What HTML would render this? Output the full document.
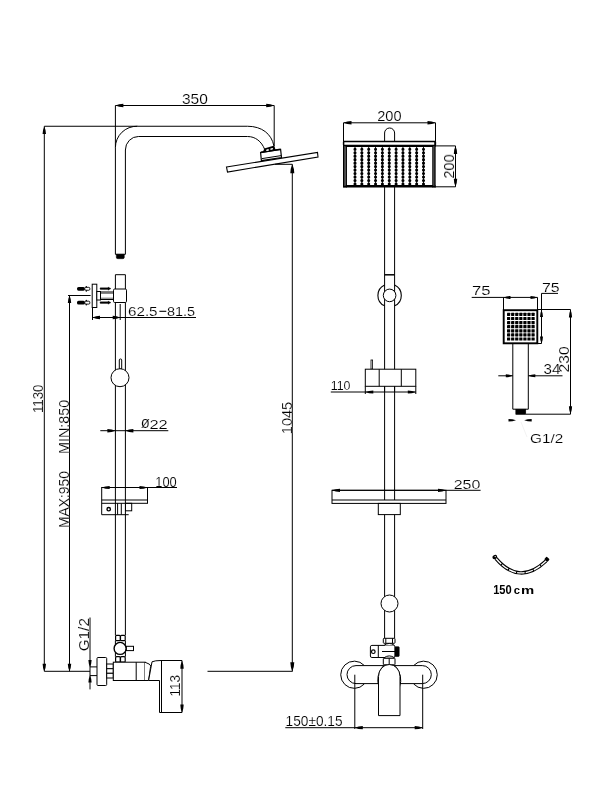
<!DOCTYPE html>
<html><head><meta charset="utf-8"><style>
html,body{margin:0;padding:0;background:#fff;width:600px;height:800px;overflow:hidden}
svg{display:block}
text{font-family:"Liberation Sans",sans-serif}
</style></head><body>
<svg width="600" height="800" viewBox="0 0 600 800">
<rect x="0" y="0" width="600" height="800" fill="#fff"/>
<line x1="115.4" y1="105.5" x2="274.2" y2="105.5" stroke="#000" stroke-width="1" />
<path d="M115.40,105.50 Q119.00,103.79 123.40,103.70 L123.40,107.30 Q119.00,107.21 115.40,105.50 Z" fill="#000"/>
<path d="M274.20,105.50 Q270.60,103.79 266.20,103.70 L266.20,107.30 Q270.60,107.21 274.20,105.50 Z" fill="#000"/>
<line x1="274.2" y1="105.5" x2="274.2" y2="146" stroke="#000" stroke-width="1" />
<line x1="115.4" y1="105.5" x2="115.4" y2="147.5" stroke="#000" stroke-width="1" />
<line x1="44.3" y1="126.25" x2="137.5" y2="126.25" stroke="#000" stroke-width="1" />
<path d="M115.4,254.3 L115.4,147.5 A21.5,21.3 0 0 1 137.5,126.25 L247.5,126.25 C262,126.25 271.5,134 273.9,145.8" fill="none" stroke="#000" stroke-width="1" />
<path d="M125.4,254.3 L125.4,150 A13,13.5 0 0 1 138.4,136.5 L247.5,136.5 C255.5,136.5 261.5,141.5 264.6,149.2" fill="none" stroke="#000" stroke-width="1" />
<line x1="115.4" y1="254.3" x2="125.4" y2="254.3" stroke="#000" stroke-width="1" />
<path d="M116.3,254.3 L124.3,254.3 L124.3,257.2 Q124.3,258.7 122.8,258.7 L117.8,258.7 Q116.3,258.7 116.3,257.2 Z" fill="#000" stroke="#000" stroke-width="0.5" />
<polygon points="226.5,167 317.5,152.5 318,157 227.5,172" fill="#fff" stroke="#000" stroke-width="1.1"/>
<polygon points="260.6,152.6 280.6,149.5 281.5,157.5 261.4,160.7" fill="#fff" stroke="#000" stroke-width="1.2"/>
<line x1="260.8" y1="152.3" x2="280.6" y2="149.2" stroke="#000" stroke-width="1.6" />
<line x1="262" y1="158.6" x2="281.2" y2="155.6" stroke="#000" stroke-width="1" />
<polygon points="264.3,148.6 274.2,145.4 275.6,149.9 262.8,152.2" fill="#000"/>
<ellipse cx="267.6" cy="150.1" rx="1.6" ry="0.8" transform="rotate(-17 267.6 150.1)" fill="#fff"/>
<ellipse cx="271.6" cy="148.9" rx="1.6" ry="0.8" transform="rotate(-17 271.6 148.9)" fill="#fff"/>
<line x1="275" y1="164.3" x2="292.3" y2="164.3" stroke="#000" stroke-width="1" />
<line x1="292.3" y1="164.3" x2="292.3" y2="671.3" stroke="#000" stroke-width="1" />
<path d="M292.30,164.30 Q290.40,168.35 290.30,173.30 L294.30,173.30 Q294.20,168.35 292.30,164.30 Z" fill="#000"/>
<path d="M292.30,671.30 Q290.40,667.25 290.30,662.30 L294.30,662.30 Q294.20,667.25 292.30,671.30 Z" fill="#000"/>
<line x1="207.5" y1="671.3" x2="292.6" y2="671.3" stroke="#000" stroke-width="1" />
<line x1="44.3" y1="126.25" x2="44.3" y2="671.3" stroke="#000" stroke-width="1" />
<path d="M44.30,126.50 Q42.68,129.88 42.60,134.00 L46.00,134.00 Q45.91,129.88 44.30,126.50 Z" fill="#000"/>
<path d="M44.30,671.30 Q42.68,667.92 42.60,663.80 L46.00,663.80 Q45.91,667.92 44.30,671.30 Z" fill="#000"/>
<line x1="68" y1="295.5" x2="90.6" y2="295.5" stroke="#000" stroke-width="1" />
<line x1="69.5" y1="295.5" x2="69.5" y2="671.3" stroke="#000" stroke-width="1" />
<path d="M69.50,295.50 Q67.89,298.88 67.80,303.00 L71.20,303.00 Q71.11,298.88 69.50,295.50 Z" fill="#000"/>
<path d="M69.50,671.30 Q67.89,667.92 67.80,663.80 L71.20,663.80 Q71.11,667.92 69.50,671.30 Z" fill="#000"/>
<line x1="44.3" y1="671.3" x2="90" y2="671.3" stroke="#000" stroke-width="1" />
<line x1="115.4" y1="274.7" x2="115.4" y2="635.3" stroke="#000" stroke-width="1" />
<line x1="125.4" y1="274.7" x2="125.4" y2="635.3" stroke="#000" stroke-width="1" />
<line x1="115.4" y1="274.7" x2="125.4" y2="274.7" stroke="#000" stroke-width="1" />
<rect x="92.2" y="284.2" width="4.60" height="23.30" rx="0" fill="#fff" stroke="#000" stroke-width="1"/>
<rect x="96.8" y="291.5" width="3.70" height="8.50" rx="0" fill="#fff" stroke="#000" stroke-width="1"/>
<rect x="100.5" y="292" width="13.00" height="7.50" rx="0" fill="#fff" stroke="#000" stroke-width="1"/>
<line x1="100.5" y1="293.3" x2="113.5" y2="293.3" stroke="#000" stroke-width="0.6" />
<line x1="100.5" y1="298.2" x2="113.5" y2="298.2" stroke="#000" stroke-width="0.6" />
<rect x="113.5" y="289" width="13.00" height="13.50" rx="1.2" fill="#fff" stroke="#000" stroke-width="1"/>
<rect x="77" y="286.90" width="8" height="3.8" rx="1.6" fill="#000"/>
<rect x="84.8" y="287.35" width="5" height="2.9" rx="1" fill="#fff" stroke="#000" stroke-width="0.9"/>
<circle cx="86.3" cy="286.70" r="0.75" fill="#000"/><circle cx="86.3" cy="290.90" r="0.75" fill="#000"/>
<rect x="77" y="300.75" width="8" height="3.8" rx="1.6" fill="#000"/>
<rect x="84.8" y="301.20" width="5" height="2.9" rx="1" fill="#fff" stroke="#000" stroke-width="0.9"/>
<circle cx="86.3" cy="300.55" r="0.75" fill="#000"/><circle cx="86.3" cy="304.75" r="0.75" fill="#000"/>
<path d="M100.3,287.70000000000005 L108,287.70000000000005 L108,287.0 L111,288.6 L108,290.20000000000005 L108,289.5 L100.3,289.5 Q99.6,288.6 100.3,287.70000000000005 Z" fill="#000" stroke="#000" stroke-width="0.3" />
<path d="M100.3,301.70000000000005 L108,301.70000000000005 L108,301.0 L111,302.6 L108,304.20000000000005 L108,303.5 L100.3,303.5 Q99.6,302.6 100.3,301.70000000000005 Z" fill="#000" stroke="#000" stroke-width="0.3" />
<line x1="92.5" y1="308" x2="92.5" y2="320" stroke="#000" stroke-width="1" />
<line x1="120.2" y1="304" x2="120.2" y2="320" stroke="#000" stroke-width="1" />
<line x1="92.5" y1="317.5" x2="196" y2="317.5" stroke="#000" stroke-width="1" />
<path d="M92.50,317.50 Q95.88,315.79 100.00,315.70 L100.00,319.30 Q95.88,319.21 92.50,317.50 Z" fill="#000"/>
<path d="M120.20,317.50 Q116.83,315.79 112.70,315.70 L112.70,319.30 Q116.83,319.21 120.20,317.50 Z" fill="#000"/>
<line x1="159.4" y1="311.3" x2="166.3" y2="311.3" stroke="#000" stroke-width="1.1" />
<rect x="119.3" y="359" width="2.40" height="10.00" rx="1" fill="#fff" stroke="#000" stroke-width="1"/>
<circle cx="120" cy="377.7" r="9" fill="#fff" stroke="#000" stroke-width="1"/>
<line x1="100.3" y1="430.7" x2="168.3" y2="430.7" stroke="#000" stroke-width="1" />
<path d="M115.40,430.70 Q111.80,429.08 107.40,429.00 L107.40,432.40 Q111.80,432.31 115.40,430.70 Z" fill="#000"/>
<path d="M125.40,430.70 Q129.00,429.08 133.40,429.00 L133.40,432.40 Q129.00,432.31 125.40,430.70 Z" fill="#000"/>
<line x1="101.7" y1="487.5" x2="177" y2="487.5" stroke="#000" stroke-width="1" />
<path d="M101.70,487.50 Q105.30,485.98 109.70,485.90 L109.70,489.10 Q105.30,489.02 101.70,487.50 Z" fill="#000"/>
<path d="M147.50,487.50 Q143.90,485.98 139.50,485.90 L139.50,489.10 Q143.90,489.02 147.50,487.50 Z" fill="#000"/>
<rect x="101.7" y="487.5" width="45.80" height="15.80" rx="0" fill="none" stroke="#000" stroke-width="1"/>
<line x1="101.7" y1="500" x2="147.5" y2="500" stroke="#000" stroke-width="1" />
<path d="M101.7,503.3 L101.7,514.7 L128.7,514.7" fill="none" stroke="#000" stroke-width="1" />
<rect x="125.5" y="503.3" width="6.20" height="7.50" rx="0" fill="none" stroke="#000" stroke-width="1"/>
<line x1="117.6" y1="503.3" x2="117.6" y2="514.7" stroke="#000" stroke-width="1" />
<line x1="121.3" y1="503.3" x2="121.3" y2="514.7" stroke="#000" stroke-width="1" />
<circle cx="108.7" cy="509.2" r="1.7" fill="#fff" stroke="#000" stroke-width="1.4"/>
<rect x="115.6" y="635.3" width="4.70" height="5.40" rx="1" fill="#fff" stroke="#000" stroke-width="1.2"/>
<rect x="120.5" y="635.3" width="4.70" height="5.40" rx="1" fill="#fff" stroke="#000" stroke-width="1.2"/>
<rect x="115.6" y="656.7" width="4.70" height="5.50" rx="1" fill="#fff" stroke="#000" stroke-width="1.2"/>
<rect x="120.5" y="656.7" width="4.70" height="5.50" rx="1" fill="#fff" stroke="#000" stroke-width="1.2"/>
<line x1="115.4" y1="640.7" x2="115.4" y2="656.7" stroke="#000" stroke-width="1" />
<line x1="125.4" y1="640.7" x2="125.4" y2="656.7" stroke="#000" stroke-width="1" />
<rect x="126.3" y="646.3" width="7.20" height="4.30" rx="0" fill="#fff" stroke="#000" stroke-width="1"/>
<circle cx="120.1" cy="648.4" r="6" fill="#fff" stroke="#000" stroke-width="1.4"/>
<line x1="90" y1="617.5" x2="90" y2="689.4" stroke="#000" stroke-width="1" />
<path d="M90.00,666.90 Q88.48,663.75 88.40,659.90 L91.60,659.90 Q91.52,663.75 90.00,666.90 Z" fill="#000"/>
<path d="M90.00,675.60 Q88.48,678.75 88.40,682.60 L91.60,682.60 Q91.52,678.75 90.00,675.60 Z" fill="#000"/>
<line x1="90" y1="666.9" x2="97" y2="666.9" stroke="#000" stroke-width="1" />
<line x1="90" y1="675.6" x2="97" y2="675.6" stroke="#000" stroke-width="1" />
<rect x="97" y="657.5" width="9.70" height="28.00" rx="1" fill="#fff" stroke="#000" stroke-width="1"/>
<rect x="106.7" y="664" width="6.60" height="4.70" rx="0" fill="#fff" stroke="#000" stroke-width="1"/>
<rect x="106.7" y="668.7" width="6.60" height="4.60" rx="0" fill="#fff" stroke="#000" stroke-width="1"/>
<rect x="106.7" y="673.3" width="6.60" height="4.70" rx="0" fill="#fff" stroke="#000" stroke-width="1"/>
<rect x="113.3" y="662.2" width="31.70" height="18.30" rx="0" fill="#fff" stroke="#000" stroke-width="1"/>
<line x1="136.2" y1="662.2" x2="136.2" y2="680.5" stroke="#000" stroke-width="1" />
<path d="M145,662.2 L149,664 Q150.8,664.8 150.6,666.5 L148.6,680.5 L145,680.5" fill="#fff" stroke="#000" stroke-width="1" />
<path d="M152,661.8 Q155,660.5 161,660.5 L182,660.5 L182,712.5 L159.5,712.5 L159.5,680.5 L148.6,680.5 L152,661.8 Z" fill="#fff" stroke="#000" stroke-width="1" />
<line x1="161.5" y1="660.5" x2="161.5" y2="712.5" stroke="#000" stroke-width="1" />
<path d="M182.00,660.80 Q180.38,664.40 180.30,668.80 L183.70,668.80 Q183.62,664.40 182.00,660.80 Z" fill="#000"/>
<path d="M182.00,712.50 Q180.38,708.90 180.30,704.50 L183.70,704.50 Q183.62,708.90 182.00,712.50 Z" fill="#000"/>
<line x1="343.5" y1="122.8" x2="435.5" y2="122.8" stroke="#000" stroke-width="1" />
<path d="M343.50,122.80 Q347.10,121.19 351.50,121.10 L351.50,124.50 Q347.10,124.41 343.50,122.80 Z" fill="#000"/>
<path d="M435.50,122.80 Q431.90,121.19 427.50,121.10 L427.50,124.50 Q431.90,124.41 435.50,122.80 Z" fill="#000"/>
<line x1="343.5" y1="122.8" x2="343.5" y2="141" stroke="#000" stroke-width="1" />
<line x1="435.5" y1="122.8" x2="435.5" y2="141" stroke="#000" stroke-width="1" />
<path d="M384.6,141 L384.6,133 A5,5 0 0 1 394.6,133 L394.6,141" fill="#fff" stroke="#000" stroke-width="1" />
<rect x="343.5" y="145.5" width="91.00" height="40.80" rx="0" fill="#fff" stroke="#000" stroke-width="1"/>
<line x1="355.00" y1="146" x2="355.00" y2="185" stroke="#000" stroke-width="0.9"/>
<line x1="355.00" y1="149.2" x2="355.00" y2="185" stroke="#000" stroke-width="3.1" stroke-linecap="round" stroke-dasharray="0.01,3.47"/>
<line x1="361.85" y1="146" x2="361.85" y2="185" stroke="#000" stroke-width="0.9"/>
<line x1="361.85" y1="149.2" x2="361.85" y2="185" stroke="#000" stroke-width="3.1" stroke-linecap="round" stroke-dasharray="0.01,3.47"/>
<line x1="368.70" y1="146" x2="368.70" y2="185" stroke="#000" stroke-width="0.9"/>
<line x1="368.70" y1="149.2" x2="368.70" y2="185" stroke="#000" stroke-width="3.1" stroke-linecap="round" stroke-dasharray="0.01,3.47"/>
<line x1="375.55" y1="146" x2="375.55" y2="185" stroke="#000" stroke-width="0.9"/>
<line x1="375.55" y1="149.2" x2="375.55" y2="185" stroke="#000" stroke-width="3.1" stroke-linecap="round" stroke-dasharray="0.01,3.47"/>
<line x1="382.40" y1="146" x2="382.40" y2="185" stroke="#000" stroke-width="0.9"/>
<line x1="382.40" y1="149.2" x2="382.40" y2="185" stroke="#000" stroke-width="3.1" stroke-linecap="round" stroke-dasharray="0.01,3.47"/>
<line x1="389.25" y1="146" x2="389.25" y2="185" stroke="#000" stroke-width="0.9"/>
<line x1="389.25" y1="149.2" x2="389.25" y2="185" stroke="#000" stroke-width="3.1" stroke-linecap="round" stroke-dasharray="0.01,3.47"/>
<line x1="396.10" y1="146" x2="396.10" y2="185" stroke="#000" stroke-width="0.9"/>
<line x1="396.10" y1="149.2" x2="396.10" y2="185" stroke="#000" stroke-width="3.1" stroke-linecap="round" stroke-dasharray="0.01,3.47"/>
<line x1="402.95" y1="146" x2="402.95" y2="185" stroke="#000" stroke-width="0.9"/>
<line x1="402.95" y1="149.2" x2="402.95" y2="185" stroke="#000" stroke-width="3.1" stroke-linecap="round" stroke-dasharray="0.01,3.47"/>
<line x1="409.80" y1="146" x2="409.80" y2="185" stroke="#000" stroke-width="0.9"/>
<line x1="409.80" y1="149.2" x2="409.80" y2="185" stroke="#000" stroke-width="3.1" stroke-linecap="round" stroke-dasharray="0.01,3.47"/>
<line x1="416.65" y1="146" x2="416.65" y2="185" stroke="#000" stroke-width="0.9"/>
<line x1="416.65" y1="149.2" x2="416.65" y2="185" stroke="#000" stroke-width="3.1" stroke-linecap="round" stroke-dasharray="0.01,3.47"/>
<line x1="423.50" y1="146" x2="423.50" y2="185" stroke="#000" stroke-width="0.9"/>
<line x1="423.50" y1="149.2" x2="423.50" y2="185" stroke="#000" stroke-width="3.1" stroke-linecap="round" stroke-dasharray="0.01,3.47"/>
<rect x="343.6" y="141.4" width="91.80" height="4.00" rx="0.6" fill="#fff" stroke="#000" stroke-width="1.5"/>
<line x1="343.5" y1="146" x2="435.5" y2="146" stroke="#000" stroke-width="1.8" />
<line x1="343.5" y1="186.3" x2="435.5" y2="186.3" stroke="#000" stroke-width="2.5" />
<line x1="344.9" y1="146" x2="344.9" y2="186" stroke="#999" stroke-width="1.6" />
<line x1="343.8" y1="145" x2="343.8" y2="187.5" stroke="#000" stroke-width="1.6" />
<line x1="346.2" y1="145" x2="346.2" y2="187.5" stroke="#000" stroke-width="1.5" />
<line x1="433.9" y1="146" x2="433.9" y2="186" stroke="#888" stroke-width="1.6" />
<line x1="432.9" y1="145" x2="432.9" y2="187.5" stroke="#000" stroke-width="1.3" />
<line x1="435" y1="141" x2="435" y2="187.5" stroke="#000" stroke-width="1.3" />
<line x1="435" y1="145.9" x2="455.5" y2="145.9" stroke="#000" stroke-width="1" />
<line x1="435" y1="186.8" x2="455.5" y2="186.8" stroke="#000" stroke-width="1" />
<line x1="455.5" y1="145.9" x2="455.5" y2="186.8" stroke="#000" stroke-width="1" />
<path d="M455.50,145.90 Q453.88,149.50 453.80,153.90 L457.20,153.90 Q457.12,149.50 455.50,145.90 Z" fill="#000"/>
<path d="M455.50,186.80 Q453.88,183.20 453.80,178.80 L457.20,178.80 Q457.12,183.20 455.50,186.80 Z" fill="#000"/>
<line x1="384.6" y1="186.6" x2="384.6" y2="490.3" stroke="#000" stroke-width="1" />
<line x1="394.6" y1="186.6" x2="394.6" y2="490.3" stroke="#000" stroke-width="1" />
<line x1="384.6" y1="274.8" x2="394.6" y2="274.8" stroke="#000" stroke-width="1.5" />
<path d="M384.6,284.95 A11.5,11.5 0 0 0 384.6,305.85" fill="none" stroke="#000" stroke-width="1.1" />
<path d="M394.6,284.95 A11.5,11.5 0 0 1 394.6,305.85" fill="none" stroke="#000" stroke-width="1.1" />
<circle cx="389.6" cy="295.4" r="6.3" fill="#fff" stroke="#000" stroke-width="1"/>
<rect x="371" y="360" width="1.60" height="9.20" rx="0" fill="#fff" stroke="#000" stroke-width="0.8"/>
<rect x="365.3" y="369.2" width="50.50" height="17.10" rx="0" fill="#fff" stroke="#000" stroke-width="1"/>
<line x1="379.2" y1="369.2" x2="379.2" y2="386.3" stroke="#000" stroke-width="1" />
<line x1="401.3" y1="369.2" x2="401.3" y2="386.3" stroke="#000" stroke-width="1" />
<line x1="384.6" y1="386.3" x2="384.6" y2="392" stroke="#000" stroke-width="1" />
<line x1="394.6" y1="386.3" x2="394.6" y2="392" stroke="#000" stroke-width="1" />
<line x1="330.8" y1="392" x2="415.8" y2="392" stroke="#000" stroke-width="1" />
<line x1="365.3" y1="386.3" x2="365.3" y2="394" stroke="#000" stroke-width="1" />
<line x1="415.8" y1="386.3" x2="415.8" y2="394" stroke="#000" stroke-width="1" />
<path d="M365.30,392.00 Q368.90,390.48 373.30,390.40 L373.30,393.60 Q368.90,393.52 365.30,392.00 Z" fill="#000"/>
<path d="M415.80,392.00 Q412.20,390.48 407.80,390.40 L407.80,393.60 Q412.20,393.52 415.80,392.00 Z" fill="#000"/>
<line x1="332" y1="490.3" x2="480.6" y2="490.3" stroke="#000" stroke-width="1" />
<path d="M332.00,490.30 Q335.60,488.78 340.00,488.70 L340.00,491.90 Q335.60,491.82 332.00,490.30 Z" fill="#000"/>
<path d="M446.00,490.30 Q442.40,488.78 438.00,488.70 L438.00,491.90 Q442.40,491.82 446.00,490.30 Z" fill="#000"/>
<rect x="332" y="490.3" width="114.00" height="13.10" rx="0" fill="none" stroke="#000" stroke-width="1"/>
<line x1="332" y1="500" x2="446" y2="500" stroke="#000" stroke-width="1" />
<rect x="378.3" y="503.4" width="22.00" height="11.20" rx="0" fill="none" stroke="#000" stroke-width="1"/>
<line x1="384.6" y1="490.3" x2="384.6" y2="500" stroke="#000" stroke-width="1" />
<line x1="394.6" y1="490.3" x2="394.6" y2="500" stroke="#000" stroke-width="1" />
<line x1="384.6" y1="514.6" x2="384.6" y2="638.3" stroke="#000" stroke-width="1" />
<line x1="394.6" y1="514.6" x2="394.6" y2="638.3" stroke="#000" stroke-width="1" />
<circle cx="389.5" cy="603.5" r="8.5" fill="#fff" stroke="#000" stroke-width="1"/>
<rect x="383.3" y="638.3" width="11.70" height="5.00" rx="0.8" fill="#fff" stroke="#000" stroke-width="1"/>
<line x1="385.8" y1="638.3" x2="385.8" y2="643.3" stroke="#000" stroke-width="1" />
<line x1="392.5" y1="638.3" x2="392.5" y2="643.3" stroke="#000" stroke-width="1" />
<rect x="370.4" y="645.4" width="24.60" height="12.10" rx="1.5" fill="#fff" stroke="#000" stroke-width="1"/>
<path d="M384,645.4 Q389.2,641.5 394.5,645.4" fill="#fff" stroke="#000" stroke-width="1" />
<line x1="378.3" y1="645.4" x2="378.3" y2="657.5" stroke="#000" stroke-width="1" />
<circle cx="373.3" cy="651.7" r="1.8" fill="#fff" stroke="#000" stroke-width="1.2"/>
<line x1="382" y1="651.5" x2="395" y2="651.5" stroke="#000" stroke-width="1" />
<rect x="395" y="646.7" width="4.20" height="9.80" rx="0.8" fill="#000" stroke="#000" stroke-width="0.6"/>
<path d="M384,657.8 Q389.2,654 394.5,657.8" fill="#fff" stroke="#000" stroke-width="1" />
<rect x="383.3" y="658.3" width="11.70" height="6.50" rx="0.5" fill="#fff" stroke="#000" stroke-width="1"/>
<line x1="389.2" y1="658.3" x2="389.2" y2="664.8" stroke="#000" stroke-width="1" />
<path d="M364.3,665.5 A13.6,13.6 0 1 0 364.3,684" fill="#fff" stroke="#000" stroke-width="1" />
<path d="M413.7,665.5 A13.6,13.6 0 1 1 413.7,684" fill="#fff" stroke="#000" stroke-width="1" />
<path d="M356,665.6 L422.3,665.6 A9,9 0 0 1 422.3,683.6 L356,683.6 A9,9 0 0 1 356,665.6 Z" fill="#fff" stroke="#000" stroke-width="1" />
<path d="M379,687 Q375,676 383.5,665.6" fill="none" stroke="#000" stroke-width="1" />
<path d="M399.5,687 Q403.5,676 395,665.6" fill="none" stroke="#000" stroke-width="1" />
<path d="M378.5,715.6 L378.5,676.5 A10.75,12 0 0 1 400,676.5 L400,715.6 Z" fill="#fff" stroke="#000" stroke-width="1" />
<line x1="354.8" y1="674.7" x2="354.8" y2="729" stroke="#000" stroke-width="1" />
<line x1="422.7" y1="674.7" x2="422.7" y2="729" stroke="#000" stroke-width="1" />
<line x1="285.3" y1="727.7" x2="422.7" y2="727.7" stroke="#000" stroke-width="1" />
<path d="M354.80,727.70 Q358.40,726.18 362.80,726.10 L362.80,729.30 Q358.40,729.22 354.80,727.70 Z" fill="#000"/>
<path d="M422.70,727.70 Q419.10,726.18 414.70,726.10 L414.70,729.30 Q419.10,729.22 422.70,727.70 Z" fill="#000"/>
<rect x="503.7" y="310.2" width="33.60" height="33.10" rx="0" fill="#fff" stroke="#000" stroke-width="1.9"/>
<rect x="507.00" y="312.80" width="3.2" height="3.2" rx="0.4" fill="#000"/>
<rect x="507.00" y="316.90" width="3.2" height="3.2" rx="0.4" fill="#000"/>
<rect x="507.00" y="321.00" width="3.2" height="3.2" rx="0.4" fill="#000"/>
<rect x="507.00" y="325.10" width="3.2" height="3.2" rx="0.4" fill="#000"/>
<rect x="507.00" y="329.20" width="3.2" height="3.2" rx="0.4" fill="#000"/>
<rect x="507.00" y="333.30" width="3.2" height="3.2" rx="0.4" fill="#000"/>
<rect x="507.00" y="337.40" width="3.2" height="3.2" rx="0.4" fill="#000"/>
<rect x="511.08" y="312.80" width="3.2" height="3.2" rx="0.4" fill="#000"/>
<rect x="511.08" y="316.90" width="3.2" height="3.2" rx="0.4" fill="#000"/>
<rect x="511.08" y="321.00" width="3.2" height="3.2" rx="0.4" fill="#000"/>
<rect x="511.08" y="325.10" width="3.2" height="3.2" rx="0.4" fill="#000"/>
<rect x="511.08" y="329.20" width="3.2" height="3.2" rx="0.4" fill="#000"/>
<rect x="511.08" y="333.30" width="3.2" height="3.2" rx="0.4" fill="#000"/>
<rect x="511.08" y="337.40" width="3.2" height="3.2" rx="0.4" fill="#000"/>
<rect x="515.16" y="312.80" width="3.2" height="3.2" rx="0.4" fill="#000"/>
<rect x="515.16" y="316.90" width="3.2" height="3.2" rx="0.4" fill="#000"/>
<rect x="515.16" y="321.00" width="3.2" height="3.2" rx="0.4" fill="#000"/>
<rect x="515.16" y="325.10" width="3.2" height="3.2" rx="0.4" fill="#000"/>
<rect x="515.16" y="329.20" width="3.2" height="3.2" rx="0.4" fill="#000"/>
<rect x="515.16" y="333.30" width="3.2" height="3.2" rx="0.4" fill="#000"/>
<rect x="515.16" y="337.40" width="3.2" height="3.2" rx="0.4" fill="#000"/>
<rect x="519.24" y="312.80" width="3.2" height="3.2" rx="0.4" fill="#000"/>
<rect x="519.24" y="316.90" width="3.2" height="3.2" rx="0.4" fill="#000"/>
<rect x="519.24" y="321.00" width="3.2" height="3.2" rx="0.4" fill="#000"/>
<rect x="519.24" y="325.10" width="3.2" height="3.2" rx="0.4" fill="#000"/>
<rect x="519.24" y="329.20" width="3.2" height="3.2" rx="0.4" fill="#000"/>
<rect x="519.24" y="333.30" width="3.2" height="3.2" rx="0.4" fill="#000"/>
<rect x="519.24" y="337.40" width="3.2" height="3.2" rx="0.4" fill="#000"/>
<rect x="523.32" y="312.80" width="3.2" height="3.2" rx="0.4" fill="#000"/>
<rect x="523.32" y="316.90" width="3.2" height="3.2" rx="0.4" fill="#000"/>
<rect x="523.32" y="321.00" width="3.2" height="3.2" rx="0.4" fill="#000"/>
<rect x="523.32" y="325.10" width="3.2" height="3.2" rx="0.4" fill="#000"/>
<rect x="523.32" y="329.20" width="3.2" height="3.2" rx="0.4" fill="#000"/>
<rect x="523.32" y="333.30" width="3.2" height="3.2" rx="0.4" fill="#000"/>
<rect x="523.32" y="337.40" width="3.2" height="3.2" rx="0.4" fill="#000"/>
<rect x="527.40" y="312.80" width="3.2" height="3.2" rx="0.4" fill="#000"/>
<rect x="527.40" y="316.90" width="3.2" height="3.2" rx="0.4" fill="#000"/>
<rect x="527.40" y="321.00" width="3.2" height="3.2" rx="0.4" fill="#000"/>
<rect x="527.40" y="325.10" width="3.2" height="3.2" rx="0.4" fill="#000"/>
<rect x="527.40" y="329.20" width="3.2" height="3.2" rx="0.4" fill="#000"/>
<rect x="527.40" y="333.30" width="3.2" height="3.2" rx="0.4" fill="#000"/>
<rect x="527.40" y="337.40" width="3.2" height="3.2" rx="0.4" fill="#000"/>
<rect x="531.48" y="312.80" width="3.2" height="3.2" rx="0.4" fill="#000"/>
<rect x="531.48" y="316.90" width="3.2" height="3.2" rx="0.4" fill="#000"/>
<rect x="531.48" y="321.00" width="3.2" height="3.2" rx="0.4" fill="#000"/>
<rect x="531.48" y="325.10" width="3.2" height="3.2" rx="0.4" fill="#000"/>
<rect x="531.48" y="329.20" width="3.2" height="3.2" rx="0.4" fill="#000"/>
<rect x="531.48" y="333.30" width="3.2" height="3.2" rx="0.4" fill="#000"/>
<rect x="531.48" y="337.40" width="3.2" height="3.2" rx="0.4" fill="#000"/>
<line x1="471.7" y1="297.4" x2="537.5" y2="297.4" stroke="#000" stroke-width="1" />
<line x1="503.5" y1="297.4" x2="503.5" y2="310" stroke="#000" stroke-width="1" />
<line x1="537.5" y1="297.4" x2="537.5" y2="310" stroke="#000" stroke-width="1" />
<path d="M503.50,297.40 Q506.65,295.97 510.50,295.90 L510.50,298.90 Q506.65,298.82 503.50,297.40 Z" fill="#000"/>
<path d="M537.50,297.40 Q534.35,295.97 530.50,295.90 L530.50,298.90 Q534.35,298.82 537.50,297.40 Z" fill="#000"/>
<line x1="541.5" y1="293.4" x2="558" y2="293.4" stroke="#000" stroke-width="1" />
<line x1="541.5" y1="293.4" x2="541.5" y2="343.5" stroke="#000" stroke-width="1" />
<line x1="537.5" y1="343.5" x2="541.5" y2="343.5" stroke="#000" stroke-width="1" />
<path d="M541.50,310.00 Q540.08,313.15 540.00,317.00 L543.00,317.00 Q542.92,313.15 541.50,310.00 Z" fill="#000"/>
<path d="M541.50,343.50 Q540.08,340.35 540.00,336.50 L543.00,336.50 Q542.92,340.35 541.50,343.50 Z" fill="#000"/>
<line x1="537.5" y1="309.5" x2="570.5" y2="309.5" stroke="#000" stroke-width="1" />
<line x1="512.8" y1="343.5" x2="512.8" y2="409.2" stroke="#000" stroke-width="1" />
<line x1="528.3" y1="343.5" x2="528.3" y2="409.2" stroke="#000" stroke-width="1" />
<line x1="512.8" y1="409.2" x2="528.3" y2="409.2" stroke="#000" stroke-width="1" />
<rect x="515.8" y="409.2" width="10.00" height="5.30" rx="0" fill="#000" stroke="#000" stroke-width="0.5"/>
<line x1="526" y1="414.2" x2="570.5" y2="414.2" stroke="#000" stroke-width="1" />
<line x1="570.5" y1="309.5" x2="570.5" y2="414.2" stroke="#000" stroke-width="1" />
<path d="M570.50,309.50 Q568.98,313.10 568.90,317.50 L572.10,317.50 Q572.02,313.10 570.50,309.50 Z" fill="#000"/>
<path d="M570.50,414.20 Q568.98,410.60 568.90,406.20 L572.10,406.20 Q572.02,410.60 570.50,414.20 Z" fill="#000"/>
<line x1="498.3" y1="375.8" x2="512.8" y2="375.8" stroke="#000" stroke-width="1" />
<line x1="528.3" y1="375.8" x2="562.5" y2="375.8" stroke="#000" stroke-width="1" />
<path d="M512.80,375.80 Q509.65,374.38 505.80,374.30 L505.80,377.30 Q509.65,377.23 512.80,375.80 Z" fill="#000"/>
<path d="M528.30,375.80 Q531.45,374.38 535.30,374.30 L535.30,377.30 Q531.45,377.23 528.30,375.80 Z" fill="#000"/>
<path d="M516.00,420.20 Q512.62,418.96 508.50,418.90 L508.50,421.50 Q512.62,421.44 516.00,420.20 Z" fill="#000"/>
<path d="M524.20,420.20 Q527.58,418.96 531.70,418.90 L531.70,421.50 Q527.58,421.44 524.20,420.20 Z" fill="#000"/>
<line x1="521" y1="422" x2="527" y2="437" stroke="#e4e4e4" stroke-width="0.5" />
<path d="M496,558.5 Q519.5,586 546,561" fill="none" stroke="#000" stroke-width="3.5" />
<path d="M496,558.5 Q519.5,586 546,561" fill="none" stroke="#fff" stroke-width="1.3" stroke-dasharray="7.5,1.1"/>
<ellipse cx="494.8" cy="557" rx="2.5" ry="2.1" transform="rotate(-30 494.8 557)" fill="#000"/>
<circle cx="495.2" cy="556.6" r="0.7" fill="#fff"/>
<rect x="544.8" y="557.5" width="4.2" height="3.6" rx="0.8" transform="rotate(40 546.9 559.3)" fill="#000"/>
<g style="will-change:transform"><text transform="translate(181.879,103.859) scale(0.15535,0.14085)" font-size="100" stroke="#fff" stroke-width="1.1" fill="#000">350</text>
<text transform="translate(292.049,434.162) rotate(-90) scale(0.14524,0.15070)" font-size="100" stroke="#fff" stroke-width="1.1" fill="#000">1045</text>
<text transform="translate(43.352,413.064) rotate(-90) scale(0.13300,0.14789)" font-size="100" stroke="#fff" stroke-width="1.1" fill="#000">1130</text>
<text transform="translate(68.859,453.948) rotate(-90) scale(0.14344,0.14085)" font-size="100" stroke="#fff" stroke-width="1.1" fill="#000">MIN:850</text>
<text transform="translate(68.859,528.111) rotate(-90) scale(0.13885,0.14085)" font-size="100" stroke="#fff" stroke-width="1.1" fill="#000">MAX:950</text>
<text transform="translate(127.989,315.663) scale(0.15216,0.13662)" font-size="100" stroke="#fff" stroke-width="1.1" fill="#000">62.5</text>
<text transform="translate(166.922,315.663) scale(0.14462,0.13662)" font-size="100" stroke="#fff" stroke-width="1.1" fill="#000">81.5</text>
<text transform="translate(140.653,428.375) scale(0.14909,0.16250)" font-size="100" stroke="#fff" stroke-width="1.1" fill="#000">ø</text>
<text transform="translate(149.378,428.700) scale(0.16436,0.12857)" font-size="100" stroke="#fff" stroke-width="1.1" fill="#000">22</text>
<text transform="translate(155.268,486.559) scale(0.12903,0.14085)" font-size="100" stroke="#fff" stroke-width="1.1" fill="#000">100</text>
<text transform="translate(89.256,651.369) rotate(-90) scale(0.15386,0.14392)" font-size="100" stroke="#fff" stroke-width="1.1" fill="#000">G1/2</text>
<text transform="translate(180.359,696.588) rotate(-90) scale(0.13605,0.14085)" font-size="100" stroke="#fff" stroke-width="1.1" fill="#000">113</text>
<text transform="translate(377.272,121.258) scale(0.14557,0.14225)" font-size="100" stroke="#fff" stroke-width="1.1" fill="#000">200</text>
<text transform="translate(453.862,178.525) rotate(-90) scale(0.14494,0.13803)" font-size="100" stroke="#fff" stroke-width="1.1" fill="#000">200</text>
<text transform="translate(330.704,390.363) scale(0.12449,0.13662)" font-size="100" stroke="#fff" stroke-width="1.1" fill="#000">110</text>
<text transform="translate(453.699,488.965) scale(0.16013,0.13521)" font-size="100" stroke="#fff" stroke-width="1.1" fill="#000">250</text>
<text transform="translate(285.605,725.859) scale(0.13688,0.14085)" font-size="100" stroke="#fff" stroke-width="1.1" fill="#000">150±0.15</text>
<text transform="translate(471.967,295.067) scale(0.16667,0.13286)" font-size="100" stroke="#fff" stroke-width="1.1" fill="#000">75</text>
<text transform="translate(542.006,291.967) scale(0.15882,0.13286)" font-size="100" stroke="#fff" stroke-width="1.1" fill="#000">75</text>
<text transform="translate(568.958,372.482) rotate(-90) scale(0.15633,0.14225)" font-size="100" stroke="#fff" stroke-width="1.1" fill="#000">230</text>
<text transform="translate(543.592,374.059) scale(0.15192,0.14085)" font-size="100" stroke="#fff" stroke-width="1.1" fill="#000">34</text>
<text transform="translate(530.034,443.177) scale(0.15314,0.12297)" font-size="100" stroke="#fff" stroke-width="1.1" fill="#000">G1/2</text>
<text transform="translate(493.131,593.572) scale(0.11146,0.12817)" font-size="100" font-weight="bold" fill="#000">150</text>
<text transform="translate(513.751,593.585) scale(0.11224,0.11455)" font-size="100" font-weight="bold" fill="#000">c</text>
<text transform="translate(520.959,593.600) scale(0.14868,0.11481)" font-size="100" font-weight="bold" fill="#000">m</text></g>
</svg></body></html>
